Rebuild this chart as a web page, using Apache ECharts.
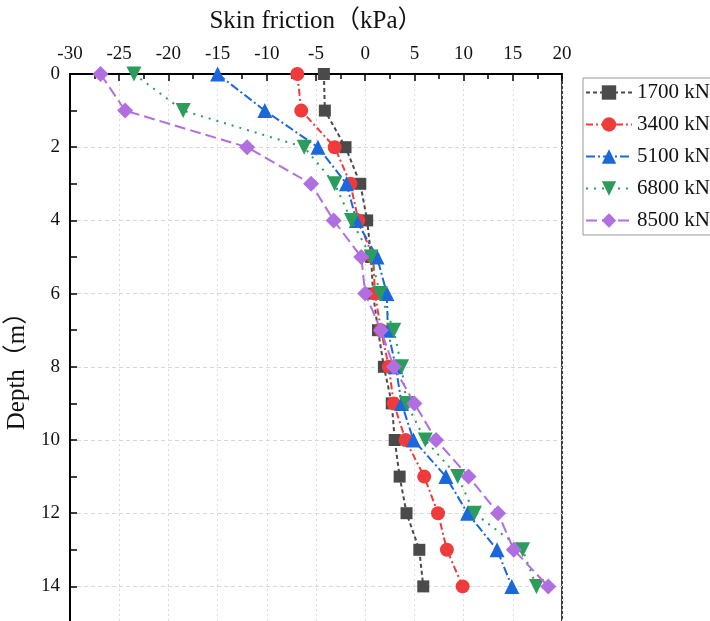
<!DOCTYPE html>
<html>
<head>
<meta charset="utf-8">
<script src="https://cdn.jsdelivr.net/npm/echarts@6/dist/echarts.min.js"></script>
<style>
html,body{margin:0;padding:0;background:#fff;}
#main{width:710px;height:621px;}
</style>
</head>
<body>
<div id="main"></div>
<script>
var depth = [0, 1, 2, 3, 4, 5, 6, 7, 8, 9, 10, 11, 12, 13, 14];
var loadNames = ['1700 kN', '3400 kN', '5100 kN', '6800 kN', '8500 kN'];
var f1700 = [-4.2, -4.1, -2.0, -0.5, 0.2, 0.6, 0.8, 1.3, 1.9, 2.7, 3.0, 3.5, 4.2, 5.5, 5.9];
var f3400 = [-6.9, -6.5, -3.1, -1.5, -0.7, 0.8, 1.0, 1.6, 2.4, 2.9, 4.1, 6.0, 7.4, 8.3, 9.9];
var f5100 = [-15.0, -10.2, -4.8, -1.9, -0.9, 1.2, 2.2, 2.3, 3.1, 3.7, 4.9, 8.2, 10.4, 13.4, 14.9];
var f6800 = [-23.5, -18.5, -6.2, -3.1, -1.4, 0.6, 1.5, 2.9, 3.7, 4.2, 6.1, 9.4, 11.1, 16.0, 17.4];
var f8500 = [-26.9, -24.4, -12.0, -5.5, -3.2, -0.4, 0.0, 1.6, 2.9, 5.0, 7.2, 10.5, 13.5, 15.1, 18.6];

var values = [f1700, f3400, f5100, f6800, f8500];
var colors = ['#4a4a4a', '#ef3b3b', '#1a68dc', '#2a9d5c', '#b16ee0'];
var symbols = ['rect', 'circle', 'triangle', 'triangle', 'diamond'];
var rotates = [0, 0, 0, 180, 0];
var sizes = [12, 14, 15, 15, 16];
var dashes = [[4, 3], [7, 3, 2, 3], [9, 3, 2, 3], [2, 6], [11, 5]];

var serif = 'Liberation Serif, Times New Roman, Noto Sans CJK SC, serif';

var series = [];
for (var i = 0; i < values.length; i++) {
    var pts = [];
    for (var j = 0; j < depth.length; j++) {
        pts.push([values[i][j], depth[j]]);
    }
    series.push({
        name: loadNames[i],
        type: 'line',
        data: pts,
        symbol: symbols[i],
        symbolRotate: rotates[i],
        symbolSize: sizes[i],
        color: colors[i],
        lineStyle: {color: colors[i], width: 2, type: dashes[i]},
        itemStyle: {color: colors[i]},
        z: 2 + i
    });
}

var myChart = echarts.init(document.getElementById('main'));
var option = {
    backgroundColor: '#fff',
    animation: false,
    grid: {
        left: 70, top: 74, width: 492, height: 549,
        outerBoundsMode: 'none',
        containLabel: false,
        show: true, borderColor: '#000', borderWidth: 1.5
    },
    legend: {
        orient: 'vertical',
        left: 583, top: 78,
        padding: [4, 4, 4, 2],
        itemWidth: 46, itemHeight: 18,
        itemGap: 11,
        borderColor: '#999', borderWidth: 1,
        textStyle: {fontFamily: serif, fontSize: 21, color: '#111'},
        data: loadNames
    },
    xAxis: {
        type: 'value',
        position: 'top',
        min: -30, max: 20, interval: 5,
        name: 'Skin friction（kPa）',
        nameLocation: 'middle',
        nameGap: 40,
        nameTextStyle: {fontFamily: serif, fontSize: 25, color: '#111'},
        axisLine: {onZero: false, lineStyle: {color: '#000', width: 2}},
        axisTick: {inside: true, length: 7, lineStyle: {color: '#000', width: 1.5}},
        minorTick: {show: true, splitNumber: 2, length: 5, lineStyle: {color: '#000', width: 1.5}},
        axisLabel: {fontFamily: serif, fontSize: 19, color: '#111', margin: 10},
        splitLine: {show: true, lineStyle: {color: '#dcdcdc', type: [2, 3], width: 1}}
    },
    yAxis: {
        type: 'value',
        inverse: true,
        min: 0, max: 15, interval: 2,
        name: 'Depth（m）',
        nameLocation: 'middle',
        nameGap: 25,
        nameRotate: 90,
        nameTextStyle: {fontFamily: serif, fontSize: 25, color: '#111', padding: [0, 33, 0, 0]},
        axisLine: {onZero: false, lineStyle: {color: '#000', width: 2}},
        axisTick: {inside: true, length: 7, lineStyle: {color: '#000', width: 1.5}},
        minorTick: {show: true, splitNumber: 2, length: 7, lineStyle: {color: '#000', width: 1.5}},
        axisLabel: {fontFamily: serif, fontSize: 19, color: '#111', margin: 10, showMaxLabel: false},
        splitLine: {show: true, lineStyle: {color: '#d8d8d8', type: [4, 3], width: 1}}
    },
    series: series
};
myChart.setOption(option);
window.addEventListener("resize", function () {
    myChart.resize();
});
</script>
</body>
</html>
